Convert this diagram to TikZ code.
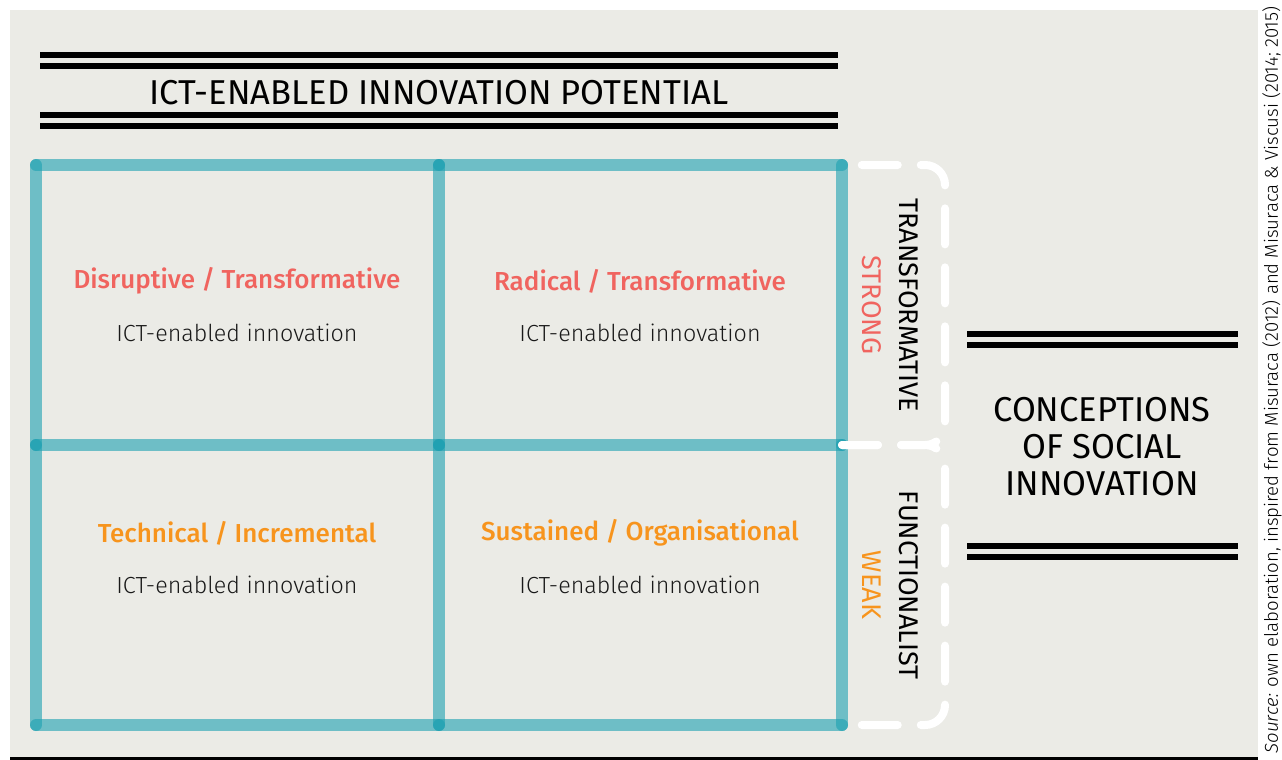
\documentclass[tikz,border=0pt]{standalone}
\usepackage{tikz}
\usepackage{xcolor}
\usepackage{fontspec}
\setmainfont{Fira Sans}
\newfontfamily\lightfont{Fira Sans Light}
\newfontfamily\mediumfont{Fira Sans Medium}
\usetikzlibrary{calc}
\definecolor{papercolor}{HTML}{EBEBE6}
\definecolor{gridcolor}{RGB}{28,160,177}
\definecolor{strongcolor}{HTML}{F0645F}
\definecolor{weakcolor}{HTML}{F7941D}
\colorlet{plaincolor}{black!90}
\tikzstyle{gridline} =[
    draw=gridcolor,
    opacity=0.6,
    line width=12pt,
    line cap=round
    ]
\tikzstyle{bracket} =[
    draw=white,
    line width=8pt,
    line cap=round,
    dash pattern=on 36pt off 23pt,
    rounded corners=20pt
    ]
\tikzstyle{rule} =[
    draw=black,
    line width=5.5pt
    ]
\tikzstyle{kind} =[
    font=\fontsize{26}{30}\selectfont\mediumfont
    ]
\tikzstyle{ictnote} =[
    text=plaincolor,
    font=\fontsize{23.3}{28}\selectfont\lightfont
    ]
\tikzstyle{conception} =[
    rotate=-90,
    font=\fontsize{27}{30}\selectfont
    ]
\tikzstyle{heading} =[
    align=center,
    font=\fontsize{34.5}{37}\selectfont
    ]

\begin{document}
\begin{tikzpicture}[x=1pt,y=-1pt]
\useasboundingbox (0,0) rectangle (1282,760);
\fill[papercolor] (10,10) rectangle (1258,757);
\draw[black, line width=3pt] (10,758.5) -- (1258,758.5);

% title
\draw[rule] (40,55) -- (838,55);
\draw[rule] (40,66) -- (838,66);
\node[heading] (potential) at (439,93) {ICT-ENABLED INNOVATION POTENTIAL};
\draw[rule] (40,115) -- (838,115);
\draw[rule] (40,126) -- (838,126);

% grid
\foreach \i/\x in {0/36,1/439,2/842}
  \foreach \j/\y in {0/165,1/445,2/725}
    \coordinate (p\i\j) at (\x,\y);
\foreach \j in {0,1,2}{
  \draw[gridline] (p0\j) -- (p1\j);
  \draw[gridline] (p1\j) -- (p2\j);
}
\foreach \i in {0,1,2}{
  \draw[gridline] (p\i0) -- (p\i1);
  \draw[gridline] (p\i1) -- (p\i2);
}

% cells
\node[kind, text=strongcolor] (disruptive) at (237,281) {Disruptive / Transformative};
\node[ictnote] (disruptive-ict) at (237,333) {ICT-enabled innovation};
\node[kind, text=strongcolor] (radical) at (640,281) {Radical / Transformative};
\node[ictnote] (radical-ict) at (640,333) {ICT-enabled innovation};
\node[kind, text=weakcolor] (technical) at (237,533) {Technical / Incremental};
\node[ictnote] (technical-ict) at (237,585) {ICT-enabled innovation};
\node[kind, text=weakcolor] (sustained) at (640,533) {Sustained / Organisational};
\node[ictnote] (sustained-ict) at (640,585) {ICT-enabled innovation};

% brackets
\coordinate (b0) at (945,165);
\coordinate (b1) at (945,445);
\coordinate (b2) at (945,725);
\draw[bracket] (p21) -- (b1) -- (b0) -- (p20);
\draw[bracket] (p21) -- (b1) -- (b2) -- (p22);

\node[conception, text=strongcolor] (strong) at (872,305) {STRONG};
\node[conception] (transformative) at (909,305) {TRANSFORMATIVE};
\node[conception, text=weakcolor] (weak) at (872,585) {WEAK};
\node[conception] (functionalist) at (909,585) {FUNCTIONALIST};

% conceptions
\draw[rule] (967,334) -- (1238,334);
\draw[rule] (967,345) -- (1238,345);
\node[heading] (conceptions) at (1102,447) {CONCEPTIONS\\OF SOCIAL\\INNOVATION};
\draw[rule] (967,546) -- (1238,546);
\draw[rule] (967,557) -- (1238,557);

% source
\node[rotate=90, font=\fontsize{18.6}{20}\selectfont\lightfont, anchor=west] (source) at (1272,757)
  {\textit{Source:} own elaboration, inspired from Misuraca (2012) and Misuraca \& Viscusi (2014; 2015)};
\end{tikzpicture}
\end{document}
